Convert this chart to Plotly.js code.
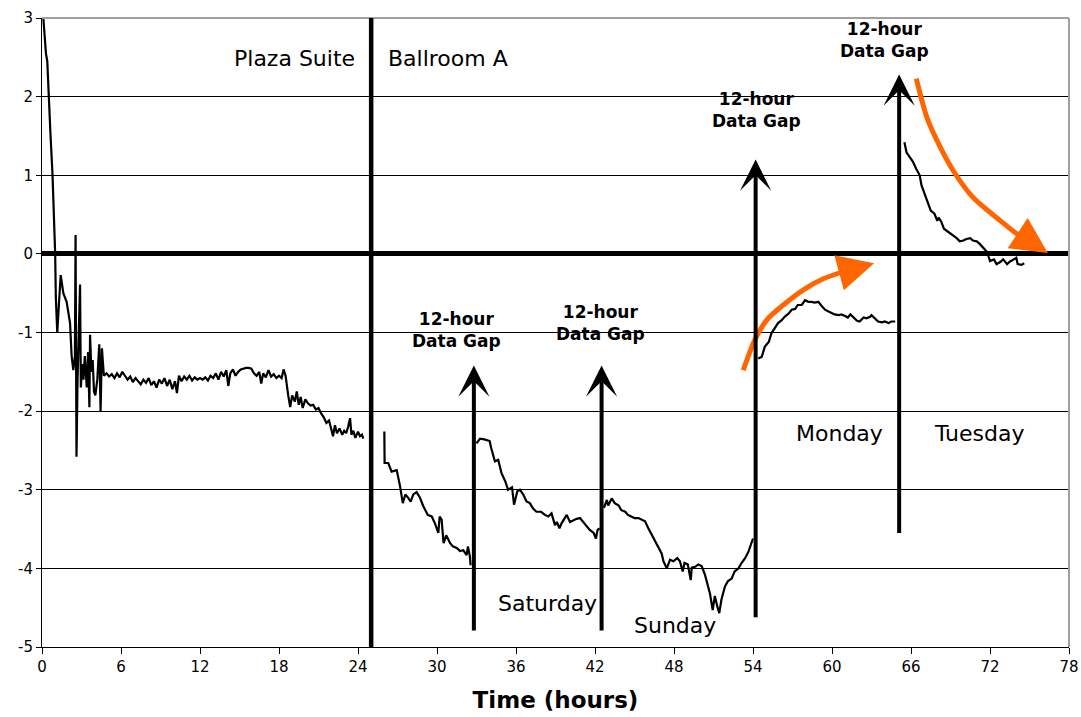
<!DOCTYPE html>
<html>
<head>
<meta charset="utf-8">
<script src="https://cdn.plot.ly/plotly-3.0.1.min.js"></script>
<style>html,body{margin:0;padding:0;background:#fff;}#chart{width:1081px;height:717px;}</style>
</head>
<body>
<div id="chart"></div>
<script>
// ---- data (hours, value) ----
var plazaHours = [0.1,0.2,0.3,0.4,0.5,0.65,0.8,0.9,1.0,1.05,1.16,1.3,1.42,1.62,1.87,2.13,2.25,2.38,2.5,2.55,2.62,2.7,2.8,2.89,2.95,3.05,3.15,3.25,3.4,3.5,3.6,3.65,3.75,3.85,3.95,4.05,4.2,4.35,4.45,4.55,4.7,4.9,5.1,5.3,5.5,5.7,5.9,6.1,6.3,6.5,6.7,6.9,7.1,7.3,7.5,7.7,7.9,8.1,8.3,8.5,8.7,8.9,9.1,9.3,9.5,9.7,9.9,10.1,10.25,10.4,10.6,10.8,11.0,11.2,11.4,11.6,11.8,12.0,12.2,12.4,12.6,12.8,13.0,13.2,13.4,13.6,13.8,14.0,14.15,14.3,14.5,14.7,14.9,15.1,15.3,15.5,15.7,15.9,16.1,16.3,16.5,16.65,16.8,17.0,17.2,17.4,17.6,17.8,18.0,18.2,18.35,18.5,18.7,18.85,19.0,19.2,19.35,19.5,19.65,19.8,20.0,20.2,20.4,20.6,20.8,21.0,21.2,21.4,21.6,21.8,22.0,22.1,22.25,22.4,22.6,22.8,22.95,23.1,23.25,23.4,23.5,23.65,23.8,24.0,24.15,24.3,24.4];
var plazaVals = [3.0,2.7,2.55,2.45,2.0,1.5,1.0,0.5,0.0,-0.55,-1.0,-0.6,-0.27,-0.5,-0.61,-0.88,-1.3,-1.48,-1.3,0.24,-2.58,-1.6,-1.1,-0.39,-1.7,-1.4,-1.6,-1.3,-1.7,-1.25,-1.95,-1.03,-1.5,-1.35,-1.75,-1.8,-1.6,-1.15,-2.0,-1.2,-1.55,-1.52,-1.56,-1.53,-1.58,-1.52,-1.57,-1.50,-1.55,-1.60,-1.56,-1.63,-1.58,-1.62,-1.66,-1.60,-1.64,-1.58,-1.67,-1.62,-1.70,-1.60,-1.65,-1.58,-1.68,-1.60,-1.72,-1.62,-1.77,-1.55,-1.62,-1.56,-1.60,-1.55,-1.61,-1.57,-1.60,-1.58,-1.60,-1.57,-1.61,-1.55,-1.58,-1.52,-1.60,-1.50,-1.56,-1.48,-1.68,-1.52,-1.47,-1.55,-1.50,-1.47,-1.46,-1.45,-1.45,-1.46,-1.52,-1.55,-1.50,-1.65,-1.52,-1.57,-1.48,-1.56,-1.53,-1.58,-1.55,-1.58,-1.47,-1.55,-1.80,-1.95,-1.80,-1.88,-1.75,-1.92,-1.82,-1.96,-1.85,-1.90,-1.93,-1.92,-1.98,-1.96,-2.03,-2.08,-2.15,-2.12,-2.25,-2.32,-2.18,-2.28,-2.22,-2.30,-2.25,-2.28,-2.20,-2.09,-2.30,-2.25,-2.34,-2.26,-2.32,-2.30,-2.35];

var fridayHours = [26.0,26.02,26.3,26.55,26.94,27.2,27.4,27.6,27.8,28.0,28.2,28.45,28.7,28.96,29.3,29.6,29.85,30.1,30.2,30.35,30.5,30.7,31.0,31.2,31.5,31.75,32.0,32.25,32.35,32.5,32.55];
var fridayVals = [-2.26,-2.66,-2.66,-2.77,-2.75,-2.96,-3.17,-3.06,-3.1,-3.15,-3.06,-3.03,-3.1,-3.21,-3.32,-3.34,-3.43,-3.55,-3.34,-3.38,-3.68,-3.58,-3.68,-3.72,-3.74,-3.78,-3.77,-3.83,-3.72,-3.85,-3.96];

var saturdayHours = [33.0,33.27,33.6,34.0,34.1,34.4,34.65,34.9,35.2,35.4,35.7,35.85,36.1,36.3,36.55,36.8,37.05,37.3,37.55,37.9,38.2,38.45,38.7,38.96,39.1,39.3,39.45,39.6,39.85,40.1,40.35,40.6,40.86,41.1,41.4,41.6,41.9,42.07,42.2,42.35];
var saturdayVals = [-2.41,-2.35,-2.36,-2.38,-2.46,-2.64,-2.62,-2.79,-2.9,-3.0,-2.97,-3.19,-3.02,-3.0,-3.06,-3.15,-3.17,-3.24,-3.28,-3.28,-3.32,-3.34,-3.3,-3.45,-3.41,-3.49,-3.43,-3.39,-3.32,-3.41,-3.39,-3.37,-3.36,-3.41,-3.47,-3.51,-3.55,-3.62,-3.51,-3.49];

var sundayHours = [42.68,42.9,43.0,43.27,43.5,43.8,44.0,44.3,44.5,44.8,45.0,45.3,45.55,45.8,46.05,46.3,46.6,46.8,47.06,47.2,47.45,47.7,47.95,48.25,48.45,48.66,48.8,49.05,49.27,49.35,49.6,49.85,50.1,50.35,50.5,50.73,50.94,51.1,51.3,51.44,51.6,51.87,52.1,52.38,52.6,52.9,53.1,53.4,53.65,53.9,54.0];
var sundayVals = [-3.23,-3.13,-3.2,-3.11,-3.17,-3.2,-3.26,-3.28,-3.32,-3.34,-3.36,-3.36,-3.38,-3.4,-3.49,-3.57,-3.66,-3.72,-3.81,-3.91,-4.0,-3.89,-3.91,-3.87,-3.91,-4.04,-3.93,-3.95,-4.15,-3.99,-3.98,-3.95,-3.97,-4.08,-4.19,-4.32,-4.53,-4.35,-4.49,-4.57,-4.4,-4.23,-4.16,-4.13,-4.04,-4.0,-3.94,-3.87,-3.79,-3.66,-3.62];

var mondayHours = [54.4,54.66,54.9,55.2,55.4,55.7,55.9,56.2,56.4,56.7,56.94,57.2,57.4,57.7,57.95,58.2,58.45,58.7,58.96,59.2,59.47,59.7,59.97,60.2,60.5,60.7,61.0,61.2,61.4,61.6,61.9,62.1,62.4,62.6,62.9,63.0,63.2,63.5,63.8,64.0,64.3,64.5,64.8];
var mondayVals = [-1.33,-1.31,-1.18,-1.12,-1.01,-0.94,-0.88,-0.84,-0.8,-0.76,-0.71,-0.7,-0.65,-0.65,-0.59,-0.61,-0.61,-0.62,-0.61,-0.66,-0.71,-0.73,-0.75,-0.77,-0.78,-0.77,-0.79,-0.81,-0.77,-0.8,-0.85,-0.86,-0.81,-0.82,-0.8,-0.78,-0.81,-0.86,-0.87,-0.86,-0.88,-0.86,-0.86];

var tuesdayHours = [65.5,65.66,65.75,65.9,66.15,66.4,66.66,66.8,67.05,67.3,67.5,67.78,68.0,68.1,68.3,68.5,68.96,69.2,69.47,69.7,69.98,70.2,70.5,70.7,70.99,71.2,71.5,71.8,71.9,72.0,72.3,72.5,72.8,73.0,73.3,73.5,73.8,74.0,74.1,74.4,74.6];
var tuesdayVals = [1.42,1.29,1.27,1.23,1.17,1.08,1.0,0.87,0.76,0.64,0.55,0.51,0.42,0.46,0.41,0.32,0.26,0.24,0.2,0.16,0.17,0.19,0.2,0.17,0.16,0.13,0.08,0.02,-0.04,-0.09,-0.07,-0.13,-0.1,-0.07,-0.13,-0.1,-0.07,-0.05,-0.13,-0.14,-0.12];

// orange trend curves
var trendUpHours = [53.26,54.15,55.1,56.3,57.8,59.3,60.6,61.2];
var trendUpVals = [-1.48,-1.09,-0.83,-0.65,-0.46,-0.32,-0.24,-0.21];
var trendDownHours = [66.4,67.2,67.95,69.2,70.7,72.8,74.0,74.7];
var trendDownVals = [2.23,1.74,1.45,1.06,0.72,0.42,0.26,0.2];
var trendUpHead = {x:63.2, y:-0.12, ax:61.0, ay:-0.22};
var trendDownHead = {x:76.4, y:0.01, ax:74.5, ay:0.22};

// data-gap arrows
var gapArrowHours = [32.8,42.5,54.2,65.1];
var gapArrowBase = [-4.81,-4.81,-4.64,-3.57];
var gapArrowTip = [-1.42,-1.42,1.2,2.28];
var gapLabelHours = [31.5,42.45,54.3,63.95];
var gapLabelVals = [-0.97,-0.88,1.83,2.72];
var gapLabelText = '12-hour<br>Data Gap';

// text labels
var placeLabels = ['Plaza Suite','Ballroom A','Saturday','Sunday','Monday','Tuesday'];
var placeHours = [19.2,30.8,38.4,48.1,60.6,71.2];
var placeVals = [2.49,2.49,-4.45,-4.73,-2.29,-2.29];

var roomDivider = 25;
var xTickVals = [0,6,12,18,24,30,36,42,48,54,60,66,72,78];
var yTickVals = [-5,-4,-3,-2,-1,0,1,2,3];
var yTickText = ['-5','-4','-3','-2','-1','0','1','2','3'];

var lineStyle = {color:'#000', width:2.2};
function seg(x,y){return {x:x,y:y,type:'scatter',mode:'lines',line:lineStyle,hoverinfo:'skip',showlegend:false};}
var orange = '#FF6600';
var traces = [
  seg(plazaHours,plazaVals), seg(fridayHours,fridayVals), seg(saturdayHours,saturdayVals),
  seg(sundayHours,sundayVals), seg(mondayHours,mondayVals), seg(tuesdayHours,tuesdayVals),
  {x:trendUpHours,y:trendUpVals,type:'scatter',mode:'lines',line:{color:orange,width:5,shape:'spline',smoothing:0.8},showlegend:false,hoverinfo:'skip'},
  {x:trendDownHours,y:trendDownVals,type:'scatter',mode:'lines',line:{color:orange,width:5,shape:'spline',smoothing:0.8},showlegend:false,hoverinfo:'skip'}
];

var font = 'DejaVu Sans, Verdana, sans-serif';
var annotations = [];
for (var i=0;i<gapArrowHours.length;i++){
  annotations.push({x:gapArrowHours[i],y:gapArrowTip[i],ax:gapArrowHours[i],ay:gapArrowBase[i],
    xref:'x',yref:'y',axref:'x',ayref:'y',text:'',showarrow:true,arrowhead:3,arrowwidth:4,arrowsize:1.3,arrowcolor:'#000'});
  annotations.push({x:gapLabelHours[i],y:gapLabelVals[i],xref:'x',yref:'y',text:'<b>'+gapLabelText+'</b>',showarrow:false,
    font:{family:font,size:17,color:'#000'},align:'center'});
}
for (var j=0;j<placeLabels.length;j++){
  annotations.push({x:placeHours[j],y:placeVals[j],xref:'x',yref:'y',text:placeLabels[j],showarrow:false,
    font:{family:font,size:22,color:'#000'}});
}
[trendUpHead, trendDownHead].forEach(function(h){
  annotations.push({x:h.x,y:h.y,ax:h.ax,ay:h.ay,xref:'x',yref:'y',axref:'x',ayref:'y',text:'',showarrow:true,
    arrowhead:2,arrowwidth:5,arrowsize:1.45,arrowcolor:orange});
});

var layout = {
  width:1081, height:717,
  margin:{l:42,r:12,t:18,b:70},
  paper_bgcolor:'#fff', plot_bgcolor:'#fff',
  showlegend:false,
  font:{family:font,size:15,color:'#000'},
  xaxis:{range:[0,78],tickvals:xTickVals,showgrid:false,zeroline:false,showline:true,linecolor:'#000',linewidth:1,
    ticks:'outside',ticklen:6,tickcolor:'#000',tickfont:{family:font,size:15,color:'#000'},
    title:{text:'<b>Time (hours)</b>',font:{family:font,size:23,color:'#000'},standoff:16}},
  yaxis:{range:[-5,3],tickvals:yTickVals,ticktext:yTickText,showgrid:true,gridcolor:'#000',gridwidth:1,
    zeroline:true,zerolinecolor:'#000',zerolinewidth:5,showline:true,linecolor:'#000',linewidth:1,
    ticks:'outside',ticklen:5,tickcolor:'#000',tickfont:{family:font,size:15,color:'#000'}},
  shapes:[
    {type:'line',xref:'paper',yref:'paper',x0:0,x1:1,y0:1,y1:1,line:{color:'#a0a0a0',width:2}},
    {type:'line',xref:'paper',yref:'paper',x0:1,x1:1,y0:0,y1:1,line:{color:'#a0a0a0',width:2}},
    {type:'line',xref:'x',yref:'y',x0:roomDivider,x1:roomDivider,y0:-5.03,y1:3,line:{color:'#000',width:4.5}}
  ],
  annotations:annotations
};
Plotly.newPlot('chart',traces,layout,{displayModeBar:false,staticPlot:true});
</script>
</body>
</html>
